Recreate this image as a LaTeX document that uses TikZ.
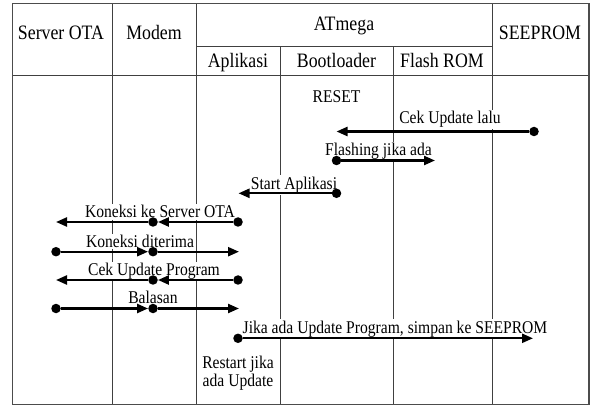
\documentclass[tikz,border=0pt]{standalone}
\usepackage{fontspec}
\setmainfont{Liberation Serif}
\usetikzlibrary{arrows.meta}
\newcommand{\vstretch}[1]{\scalebox{1}[1.15]{#1}}
\begin{document}
\begin{tikzpicture}[x=1pt,y=-1pt,
  gridline/.style={draw=black!75, line width=0.95pt},
  frameline/.style={draw=black!70, line width=1.3pt},
  hdr/.style={font=\fontsize{17.8}{20}\selectfont, anchor=base, inner sep=0pt},
  lbl/.style={font=\fontsize{15.6}{18}\selectfont, anchor=base, fill=white, inner sep=1.5pt},
  plain/.style={font=\fontsize{15.6}{18}\selectfont, anchor=base, inner sep=0pt},
  dot/.style={circle, fill=black, inner sep=0pt, minimum size=9.5pt},
  msg/.style={draw=black, line width=2.3pt, -{Triangle[length=11pt,width=9pt]}},
]
\useasboundingbox (0,0) rectangle (592,406);
% table grid
\draw[gridline] (12.5,75.5) -- (589,75.5);
\draw[gridline] (196,46.7) -- (492,46.7);
\draw[gridline] (112,3.5) -- (112,404.5);
\draw[gridline] (196,3.5) -- (196,404.5);
\draw[gridline] (492,3.5) -- (492,404.5);
\draw[gridline] (280.5,46.7) -- (280.5,404.5);
\draw[gridline] (393,46.7) -- (393,404.5);
\draw[frameline] (12.5,3.5) rectangle (589,404.5);
% header
\node[hdr] (hserver) at (61,40) {\vstretch{Server OTA}};
\node[hdr] (hmodem) at (154,40) {\vstretch{Modem}};
\node[hdr] (hatmega) at (344,30.5) {\vstretch{ATmega}};
\node[hdr] (happ) at (238,67.5) {\vstretch{Aplikasi}};
\node[hdr] (hboot) at (336.5,67.5) {\vstretch{Bootloader}};
\node[hdr] (hflash) at (442,67.5) {\vstretch{Flash ROM}};
\node[hdr] (hseeprom) at (540,39.5) {\vstretch{SEEPROM}};
% labels
\node[plain] (reset) at (336.5,102.7) {\vstretch{RESET}};
\node[lbl] (l1) at (450,124) {\vstretch{Cek Update lalu}};
\node[lbl] (l2) at (378.5,156) {\vstretch{Flashing jika ada}};
\node[lbl] (l3) at (294,189.3) {\vstretch{Start Aplikasi}};
\node[lbl] (l4) at (160,218) {\vstretch{Koneksi ke Server OTA}};
\node[lbl] (l5) at (140,247.7) {\vstretch{Koneksi diterima}};
\node[lbl] (l6) at (154,276) {\vstretch{Cek Update Program}};
\node[lbl] (l7) at (153,304) {\vstretch{Balasan}};
\node[lbl] (l8) at (395,333) {\vstretch{Jika ada Update Program, simpan ke SEEPROM}};
\node[plain] (r1) at (238,368) {\vstretch{Restart jika}};
\node[plain] (r2) at (238,386.7) {\vstretch{ada Update}};
% message 1: Cek Update lalu
\node[dot] (s1) at (534,131.5) {};
\coordinate (e1) at (336.5,131.5);
\draw[msg] (s1) -- (e1);
% message 2: Flashing
\node[dot] (s2) at (336.5,160.5) {};
\coordinate (e2) at (435,160.5);
\draw[msg] (s2) -- (e2);
% message 3: Start Aplikasi
\node[dot] (s3) at (336.5,193.3) {};
\coordinate (e3) at (238.5,193.3);
\draw[msg] (s3) -- (e3);
% message 4: Koneksi ke Server OTA
\node[dot] (a4) at (238,222) {};
\node[dot] (m4) at (153,222) {};
\coordinate (e4) at (56,222);
\draw[msg] (a4) -- (m4);
\draw[msg] (m4) -- (e4);
% message 5: Koneksi diterima
\node[dot] (s5) at (56,251.7) {};
\node[dot] (m5) at (153,251.7) {};
\coordinate (e5) at (239,251.7);
\draw[msg] (s5) -- (m5);
\draw[msg] (m5) -- (e5);
% message 6: Cek Update Program
\node[dot] (a6) at (238,280) {};
\node[dot] (m6) at (153,280) {};
\coordinate (e6) at (56,280);
\draw[msg] (a6) -- (m6);
\draw[msg] (m6) -- (e6);
% message 7: Balasan
\node[dot] (s7) at (56,308.5) {};
\node[dot] (m7) at (153,308.5) {};
\coordinate (e7) at (239,308.5);
\draw[msg] (s7) -- (m7);
\draw[msg] (m7) -- (e7);
% message 8: simpan ke SEEPROM
\node[dot] (s8) at (238,338.3) {};
\coordinate (e8) at (533,338.3);
\draw[msg] (s8) -- (e8);
\end{tikzpicture}
\end{document}
